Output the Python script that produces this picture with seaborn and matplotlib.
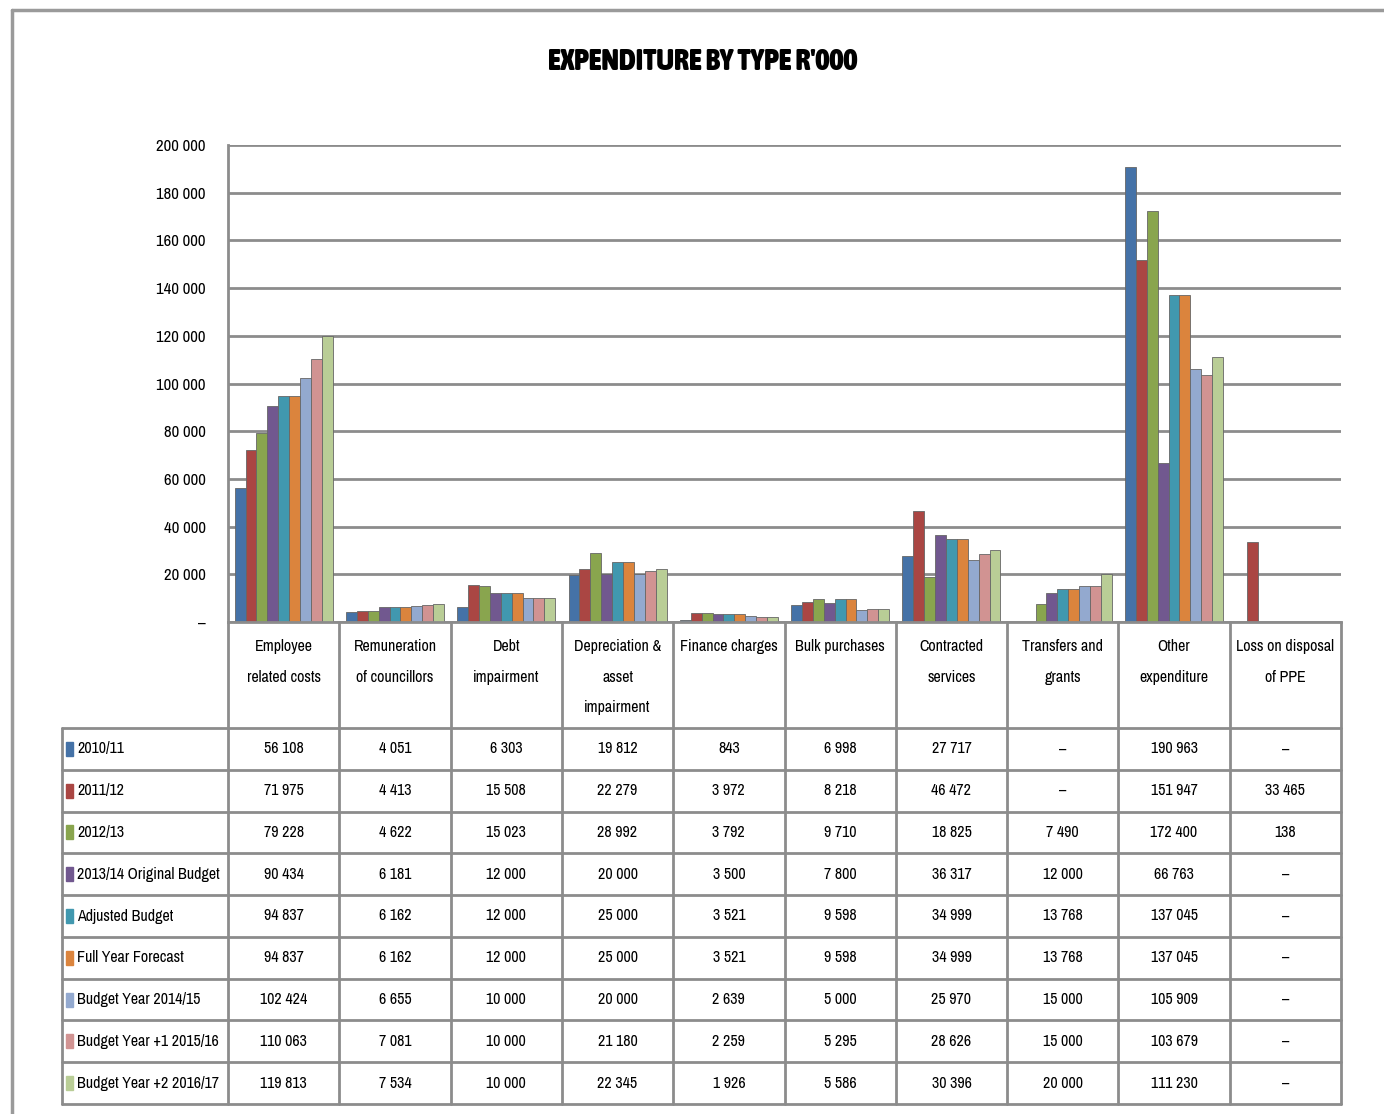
import os
import matplotlib
matplotlib.use("Agg")
import matplotlib.pyplot as plt
import matplotlib.font_manager as fm
from matplotlib.ticker import FuncFormatter
import pandas as pd
import seaborn as sns

sns.set_style("white")

# pick the narrowest sans family that is installed (the original uses a squeezed Calibri)
cands = [f for f in fm.fontManager.ttflist
         if any(k in os.path.basename(f.fname).lower() for k in ("narrow", "condensed"))
         and "mono" not in f.fname.lower() and "serif" not in f.fname.lower()
         and f.style == "normal"]
cands.sort(key=lambda f: ("dejavu" in f.fname.lower(), f.name))
regular = [f for f in cands if f.weight in (400, "normal", "regular")] or cands
bold = [f for f in cands if isinstance(f.weight, int) and f.weight >= 600
        or f.weight in ("bold", "heavy", "black")]
if regular:
    plt.rcParams['font.family'] = [regular[0].name, 'DejaVu Sans']
    plt.rcParams['font.stretch'] = regular[0].stretch
else:
    plt.rcParams['font.family'] = ['Liberation Sans', 'DejaVu Sans']
title_font = fm.FontProperties(fname=bold[0].fname) if bold else fm.FontProperties(weight="bold")
plt.rcParams['text.color'] = 'black'
plt.rcParams['ytick.color'] = 'black'

# data (R'000)
categories = ["Employee\nrelated costs", "Remuneration\nof councillors", "Debt\nimpairment",
              "Depreciation &\nasset\nimpairment", "Finance charges", "Bulk purchases",
              "Contracted\nservices", "Transfers and\ngrants", "Other\nexpenditure",
              "Loss on disposal\nof PPE"]
series = ["2010/11", "2011/12", "2012/13", "2013/14 Original Budget", "Adjusted Budget",
          "Full Year Forecast", "Budget Year 2014/15", "Budget Year +1 2015/16",
          "Budget Year +2 2016/17"]
v_2010 = [56108, 4051, 6303, 19812, 843, 6998, 27717, 0, 190963, 0]
v_2011 = [71975, 4413, 15508, 22279, 3972, 8218, 46472, 0, 151947, 33465]
v_2012 = [79228, 4622, 15023, 28992, 3792, 9710, 18825, 7490, 172400, 138]
v_orig = [90434, 6181, 12000, 20000, 3500, 7800, 36317, 12000, 66763, 0]
v_adj = [94837, 6162, 12000, 25000, 3521, 9598, 34999, 13768, 137045, 0]
v_fcst = [94837, 6162, 12000, 25000, 3521, 9598, 34999, 13768, 137045, 0]
v_2014 = [102424, 6655, 10000, 20000, 2639, 5000, 25970, 15000, 105909, 0]
v_2015 = [110063, 7081, 10000, 21180, 2259, 5295, 28626, 15000, 103679, 0]
v_2016 = [119813, 7534, 10000, 22345, 1926, 5586, 30396, 20000, 111230, 0]
values = [v_2010, v_2011, v_2012, v_orig, v_adj, v_fcst, v_2014, v_2015, v_2016]

colors = ["#4572A7", "#AA4643", "#89A54E", "#71588F", "#4198AF",
          "#DB843D", "#93A9CF", "#D19392", "#B9CD96"]

df = pd.DataFrame([(c, s, v) for s, vals in zip(series, values) for c, v in zip(categories, vals)],
                  columns=["category", "series", "value"])


def fmt(v):
    return "–" if v == 0 else f"{int(v):,}".replace(",", " ")


W, H = 1384, 1114
fig = plt.figure(figsize=(W / 100, H / 100), dpi=100)
renderer = fig.canvas.get_renderer()

# background layer in pixel coordinates for frame + table
bg = fig.add_axes([0, 0, 1, 1])
bg.set_xlim(0, W)
bg.set_ylim(H, 0)
bg.axis("off")
gc = "#8c8c8c"
bg.plot([12, W], [10, 10], color="#9a9a9a", lw=2.5)
bg.plot([12, 12], [10, H], color="#9a9a9a", lw=2.5)

# chart
ax = fig.add_axes([228 / W, 1 - 622 / H, (1341 - 228) / W, (622 - 145) / H])
sns.barplot(data=df, x="category", y="value", hue="series", palette=colors,
            width=0.88, ax=ax, legend=False, saturation=1, linewidth=0.6,
            edgecolor="#666666")
ax.set_ylim(0, 200000)
ax.set_xlim(-0.5, len(categories) - 0.5)
ax.set_yticks(range(0, 200001, 20000))
ax.yaxis.set_major_formatter(FuncFormatter(lambda v, p: fmt(v)))
ax.tick_params(axis="y", length=0, pad=16)
ax.set_xticks([])
ax.set_xlabel("")
ax.set_ylabel("")
ax.grid(axis="y", color=gc, lw=2)
ax.set_axisbelow(True)
for s in ["top", "right"]:
    ax.spines[s].set_visible(False)
for s in ["left", "bottom"]:
    ax.spines[s].set_color(gc)
    ax.spines[s].set_linewidth(2)
ax.patch.set_alpha(0)

title = fig.text(703 / W, 1 - 62 / H, "EXPENDITURE BY TYPE R'000", ha="center",
                 va="center", fontproperties=title_font, fontsize=32)
while title.get_window_extent(renderer).width > 312:
    title.set_fontsize(title.get_fontsize() - 0.5)

# data table under the chart
col_x = [228 + i * (1341 - 228) / len(categories) for i in range(len(categories) + 1)]
row_y = [728 + i * (1104 - 728) / len(series) for i in range(len(series) + 1)]
for x in col_x:
    bg.plot([x, x], [622, 1104], color=gc, lw=2)
bg.plot([62, 62], [728, 1104], color=gc, lw=2)
for y in row_y:
    bg.plot([62, 1341], [y, y], color=gc, lw=2)

texts = []
limits = []
for i, c in enumerate(categories):
    t = bg.text((col_x[i] + col_x[i + 1]) / 2, 639, c, ha="center", va="top",
                fontsize=15, linespacing=2.3)
    texts.append(t)
    limits.append(col_x[1] - col_x[0] - 5)

for j, (s, vals) in enumerate(zip(series, values)):
    yc = (row_y[j] + row_y[j + 1]) / 2
    bg.add_patch(plt.Rectangle((66, yc - 7), 7, 14, color=colors[j]))
    t = bg.text(77, yc, s, ha="left", va="center", fontsize=15)
    texts.append(t)
    limits.append(223 - 77)
    for i, v in enumerate(vals):
        texts.append(bg.text((col_x[i] + col_x[i + 1]) / 2, yc, fmt(v), ha="center",
                             va="center", fontsize=15))
        limits.append(col_x[1] - col_x[0] - 6)

# one common size for all table text, shrunk until everything fits its cell
size = 15
while size > 6 and any(t.get_window_extent(renderer).width > lim
                       for t, lim in zip(texts, limits)):
    size -= 0.25
    for t in texts:
        t.set_fontsize(size)
ax.tick_params(axis="y", labelsize=size + 0.5)

plt.savefig("out.png", dpi=100)
